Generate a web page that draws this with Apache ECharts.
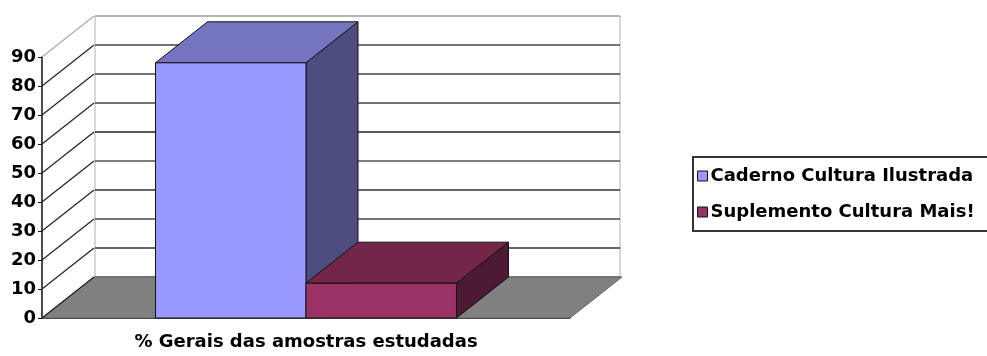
<!DOCTYPE html>
<html>
<head>
<meta charset="utf-8">
<script src="https://cdn.jsdelivr.net/npm/echarts@6/dist/echarts.min.js"></script>
<style>
html,body{margin:0;padding:0;background:#fff;}
#main{width:987px;height:356px;}
</style>
</head>
<body>
<div id="main"></div>
<script>
// ---- data ----
const categories = ['% Gerais das amostras estudadas'];
const seriesNames = ['Caderno Cultura Ilustrada', 'Suplemento Cultura Mais!'];
const ilustradaValues = [88];
const maisValues = [12];
const yTickValues = [0, 10, 20, 30, 40, 50, 60, 70, 80, 90];

// ---- style ----
const DX = 52, DY = -41;          // oblique depth offset in px
const BAR_RATIO = 0.285;          // bar width as fraction of category band
const FONT = 'DejaVu Sans';
const faces = [
  { front: '#9999FF', top: '#7474C0', side: '#4D4D80' },
  { front: '#993366', top: '#732648', side: '#4D1A33' }
];

const chart = echarts.init(document.getElementById('main'), null, { renderer: 'canvas' });

function barRender(idx) {
  return function (params, api) {
    const cat = api.value(0);
    const v = api.value(1);
    const base = api.coord([cat, 0]);
    const top = api.coord([cat, v]);
    const band = api.size([1, 0])[0];
    const bw = band * BAR_RATIO;
    const x0 = base[0] - bw + idx * bw;
    const x1 = x0 + bw;
    const yb = base[1], yt = top[1];
    const f = faces[idx];
    const stroke = { stroke: '#111', lineWidth: 1 };
    return {
      type: 'group',
      children: [
        { type: 'polygon', shape: { points: [[x1, yt], [x1 + DX, yt + DY], [x1 + DX, yb + DY], [x1, yb]] },
          style: Object.assign({ fill: f.side }, stroke) },
        { type: 'polygon', shape: { points: [[x0, yt], [x1, yt], [x1 + DX, yt + DY], [x0 + DX, yt + DY]] },
          style: Object.assign({ fill: f.top }, stroke) },
        { type: 'rect', shape: { x: x0, y: yt, width: bw, height: yb - yt },
          style: Object.assign({ fill: f.front }, stroke) }
      ]
    };
  };
}

const option = {
  animation: false,
  backgroundColor: '#fff',
  grid: [
    { left: 42, right: 417, top: 57, bottom: 38 },
    { left: 95, right: 367, top: 16, bottom: 79, show: true, borderColor: '#b0b0b0', borderWidth: 1, backgroundColor: '#fff', z: 0 }
  ],
  xAxis: [
    { type: 'category', gridIndex: 0, data: categories,
      axisLine: { show: true, lineStyle: { color: '#333', width: 1 } },
      axisTick: { show: false },
      axisLabel: { color: '#000', fontFamily: FONT, fontWeight: 'bold', fontSize: 18, margin: 15 } },
    { type: 'value', gridIndex: 1, min: 0, max: 1, show: false }
  ],
  yAxis: [
    { type: 'value', gridIndex: 0, min: 0, max: 90, interval: 10,
      axisLine: { show: true, lineStyle: { color: '#111', width: 1.5 } },
      axisTick: { show: true, length: 4, lineStyle: { color: '#111' } },
      splitLine: { show: false },
      axisLabel: { color: '#000', fontFamily: FONT, fontWeight: 'bold', fontSize: 18, margin: 6 } },
    { type: 'value', gridIndex: 1, min: 0, max: 90, interval: 10,
      axisLine: { show: false }, axisTick: { show: false }, axisLabel: { show: false },
      splitLine: { show: true, lineStyle: { color: ['#666', '#333', '#444', '#333', '#555', '#222', '#444', '#444', '#444', '#aaa'], width: 1.5 } } }
  ],
  legend: {
    orient: 'vertical',
    left: 693, top: 157,
    data: seriesNames,
    icon: 'rect',
    itemWidth: 10, itemHeight: 10,
    itemGap: 18,
    padding: [10, 16, 10, 4],
    borderColor: '#333', borderWidth: 2,
    itemStyle: { borderColor: '#111', borderWidth: 1 },
    textStyle: { color: '#000', fontFamily: FONT, fontWeight: 'bold', fontSize: 18, padding: [0, 0, 0, -2] }
  },
  series: [
    { // floor
      type: 'custom', name: 'floor', xAxisIndex: 0, yAxisIndex: 0, silent: true, z: 1,
      data: [[0, 0]],
      renderItem: function (params, api) {
        const cs = params.coordSys;
        const yb = api.coord([0, 0])[1];
        return { type: 'polygon',
          shape: { points: [[cs.x, yb], [cs.x + cs.width, yb], [cs.x + cs.width + DX, yb + DY], [cs.x + DX, yb + DY]] },
          style: { fill: '#808080', stroke: '#666', lineWidth: 1 } };
      }
    },
    { // side wall diagonals
      type: 'custom', name: 'wall', xAxisIndex: 0, yAxisIndex: 0, silent: true, z: 1,
      data: yTickValues.map(v => [0, v]),
      renderItem: function (params, api) {
        const cs = params.coordSys;
        const v = api.value(1);
        const y = api.coord([0, v])[1];
        return { type: 'line', shape: { x1: cs.x, y1: y, x2: cs.x + DX, y2: y + DY },
          style: { stroke: v === 90 ? '#aaa' : '#222', lineWidth: 1.2 } };
      }
    },
    { type: 'custom', name: seriesNames[0], xAxisIndex: 0, yAxisIndex: 0, z: 3,
      itemStyle: { color: faces[0].front },
      data: ilustradaValues.map((v, i) => [i, v]),
      renderItem: barRender(0) },
    { type: 'custom', name: seriesNames[1], xAxisIndex: 0, yAxisIndex: 0, z: 4,
      itemStyle: { color: faces[1].front },
      data: maisValues.map((v, i) => [i, v]),
      renderItem: barRender(1) }
  ]
};
chart.setOption(option);
</script>
</body>
</html>
